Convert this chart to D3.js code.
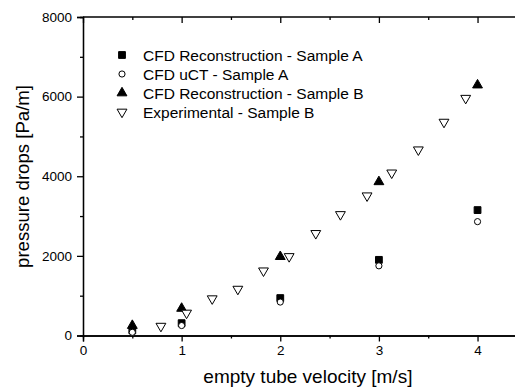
<!DOCTYPE html>
<html>
<head>
<meta charset="utf-8">
<script src="https://cdn.jsdelivr.net/npm/d3@7"></script>
<style>
  body { margin: 0; background: #fff; }
  text { font-family: "Liberation Sans", Arial, sans-serif; fill: #000; }
</style>
</head>
<body>
<svg id="chart"></svg>
<script>
// series data
var reconA_x = [0.5, 1, 2, 3, 4];
var reconA_y = [130, 310, 940, 1900, 3150];
var uctA_x = [0.5, 1, 2, 3, 4];
var uctA_y = [80, 250, 840, 1750, 2860];
var reconB_x = [0.5, 1, 2, 3, 4];
var reconB_y = [250, 680, 1980, 3860, 6290];
var expB_x = [0.79, 1.05, 1.31, 1.57, 1.83, 2.09, 2.36, 2.61, 2.88, 3.13, 3.40, 3.66, 3.88];
var expB_y = [235, 565, 925, 1165, 1625, 1985, 2565, 3040, 3510, 4085, 4665, 5360, 5960];

var xTicks = [0, 1, 2, 3, 4];
var yTicks = [0, 2000, 4000, 6000, 8000];
var legendLabels = ["CFD Reconstruction - Sample A", "CFD uCT - Sample A",
                    "CFD Reconstruction - Sample B", "Experimental - Sample B"];

var margin = {top: 17, right: 0, bottom: 52, left: 83};
var width = 516 - margin.left - margin.right;
var height = 388 - margin.top - margin.bottom;

var svg = d3.select("#chart")
    .attr("width", 515)
    .attr("height", 388);

var g = svg.append("g")
    .attr("transform", "translate(" + margin.left + "," + margin.top + ")");

var x = d3.scaleLinear().domain([0, 4.39]).range([0, width]);
var y = d3.scaleLinear().domain([0, 8000]).range([height - 0.5, 0]);

// bottom and left ticks point out, top ticks point in
var xAxis = d3.axisBottom(x).tickValues(xTicks).tickSize(6).tickPadding(4).tickFormat(d3.format("d"));
var xMinor = d3.axisBottom(x).tickValues([0.5, 1.5, 2.5, 3.5]).tickSize(3).tickFormat("");
var yAxis = d3.axisLeft(y).tickValues(yTicks).tickSize(6).tickPadding(5).tickFormat(d3.format("d"));
var yMinor = d3.axisLeft(y).tickValues([1000, 3000, 5000, 7000]).tickSize(3).tickFormat("");
var topAxis = d3.axisBottom(x).tickValues(xTicks).tickSize(6).tickFormat("");
var topMinor = d3.axisBottom(x).tickValues([0.5, 1.5, 2.5, 3.5]).tickSize(3).tickFormat("");

function style(sel) {
  sel.selectAll("path").attr("stroke", "#000").attr("stroke-width", 1.3);
  sel.selectAll("line").attr("stroke", "#000").attr("stroke-width", 1.3);
  sel.selectAll("text").style("font-size", "13.5px").style("font-family", "Liberation Sans, Arial, sans-serif");
}

g.append("g").attr("transform", "translate(0," + y(0) + ")").call(xAxis).call(style);
g.append("g").attr("transform", "translate(0," + y(0) + ")").call(xMinor).call(style);
g.append("g").call(yAxis).call(style);
g.append("g").call(yMinor).call(style);
g.append("g").call(topAxis).call(style).select(".domain").remove();
g.append("g").call(topMinor).call(style).select(".domain").remove();
g.append("line")
    .attr("x1", x(0)).attr("x2", width)
    .attr("y1", y(8000)).attr("y2", y(8000))
    .attr("stroke", "#000").attr("stroke-width", 1.3);

// axis titles
svg.append("text")
    .attr("x", margin.left + x(2.28))
    .attr("y", 383)
    .attr("text-anchor", "middle")
    .style("font-size", "19px")
    .text("empty tube velocity [m/s]");

svg.append("text")
    .attr("transform", "translate(29,176.5) rotate(-90)")
    .attr("text-anchor", "middle")
    .style("font-size", "18.6px")
    .text("pressure drops [Pa/m]");

// marker shapes
var shapes = [
  {type: d3.symbolSquare, size: 46, fill: "#000"},
  {type: d3.symbolCircle, size: 30, fill: "#fff"},
  {type: d3.symbolTriangle, size: 42, fill: "#000"},
  {type: d3.symbolTriangle, size: 42, fill: "#fff", flip: true}
];

var series = [
  {xs: reconA_x, ys: reconA_y},
  {xs: uctA_x, ys: uctA_y},
  {xs: reconB_x, ys: reconB_y},
  {xs: expB_x, ys: expB_y}
];

function drawMarker(sel, s) {
  sel.append("path")
    .attr("d", d3.symbol().type(s.type).size(s.size))
    .attr("fill", s.fill)
    .attr("stroke", "#000")
    .attr("stroke-width", 1)
    .attr("transform", function(d) {
      var t = "translate(" + d[0] + "," + d[1] + ")";
      return s.flip ? t + " rotate(180)" : t;
    });
}

series.forEach(function(sr, i) {
  var pts = sr.xs.map(function(v, j) { return [x(v), y(sr.ys[j])]; });
  var grp = g.append("g").selectAll("g").data(pts).enter().append("g");
  drawMarker(grp, shapes[i]);
});

// legend
var legend = svg.append("g").attr("transform", "translate(122,55)");
legendLabels.forEach(function(lab, i) {
  var row = legend.append("g").datum([0, i * 19]);
  drawMarker(row, shapes[i]);
  legend.append("text")
    .attr("x", 21)
    .attr("y", i * 19 + 5.5)
    .style("font-size", "15.5px")
    .text(lab);
});
</script>
</body>
</html>
